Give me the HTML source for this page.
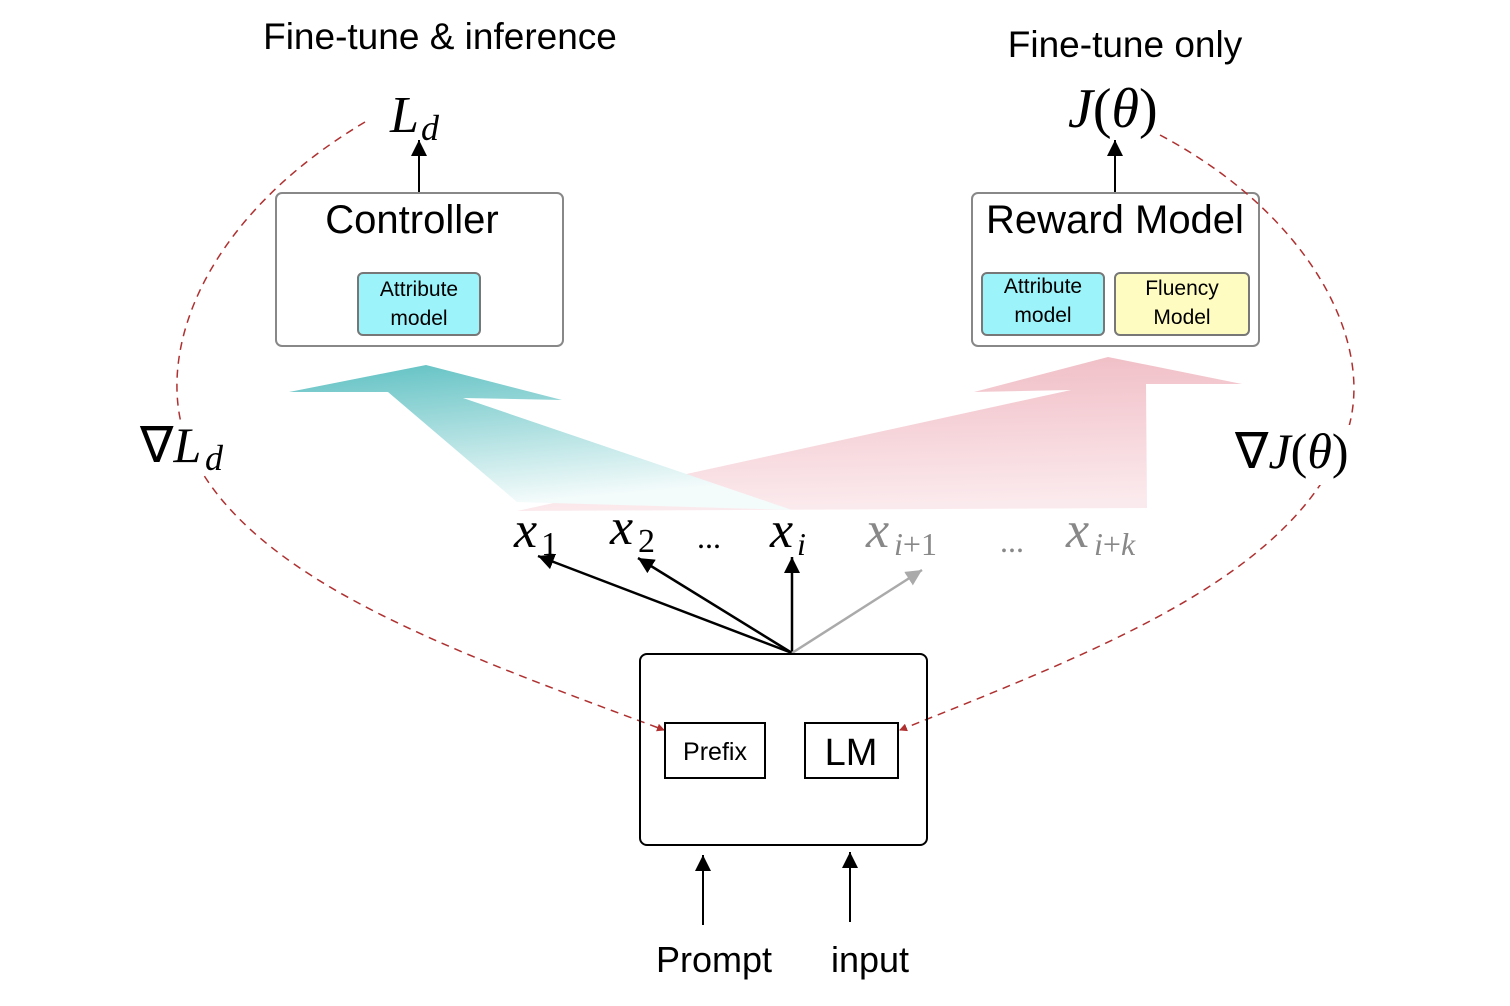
<!DOCTYPE html>
<html><head><style>
body{margin:0;background:#fff}
svg{display:block}
text{font-family:"Liberation Sans",sans-serif}
.m{font-family:"Liberation Serif",serif;font-style:italic}
.r{font-family:"Liberation Serif",serif;font-style:normal}
</style></head><body>
<svg width="1510" height="1006" viewBox="0 0 1510 1006" xmlns="http://www.w3.org/2000/svg">
<defs>
<linearGradient id="tg" x1="0" y1="0" x2="0.3" y2="1">
<stop offset="0" stop-color="#5ec0c2"/><stop offset="1" stop-color="#f4fbfb"/></linearGradient>
<linearGradient id="pg" x1="0" y1="0" x2="0.1" y2="1">
<stop offset="0" stop-color="#f0bcc4"/><stop offset="1" stop-color="#fbeaed"/></linearGradient>
<marker id="ag" markerWidth="18" markerHeight="16" refX="16" refY="8" orient="auto" markerUnits="userSpaceOnUse"><path d="M0,0 L16,8 L0,16 z" fill="#aaa"/></marker>
<marker id="ar" markerWidth="8" markerHeight="8" refX="7" refY="4" orient="auto" markerUnits="userSpaceOnUse"><path d="M0,0 L8,4 L0,8 z" fill="#b03030"/></marker>
<marker id="abig" markerWidth="18" markerHeight="16" refX="16" refY="8" orient="auto" markerUnits="userSpaceOnUse"><path d="M0,0 L16,8 L0,16 z" fill="#000"/></marker>
</defs>

<text x="440" y="49" font-size="37" text-anchor="middle">Fine-tune &amp; inference</text>
<text x="1125" y="57" font-size="37" text-anchor="middle">Fine-tune only</text>
<text x="390" y="132" font-size="52" class="m">L</text><text x="421" y="140" font-size="36" class="m">d</text>
<text x="1068" y="127" font-size="56" class="m">J<tspan class="r">(</tspan>θ<tspan class="r">)</tspan></text>

<polygon points="517,511 1071,390 974,392 1108,357 1242,384 1146,384 1147,508" fill="url(#pg)"/>
<polygon points="426,365 562,400 463,398 792,510 517,502 388,392 289,392" fill="url(#tg)"/>

<rect x="276" y="193" width="287" height="153" rx="6" fill="#fff" stroke="#888" stroke-width="2"/>
<text x="412" y="233" font-size="40" text-anchor="middle">Controller</text>
<rect x="358" y="273" width="122" height="62" rx="5" fill="#9cf4fa" stroke="#777" stroke-width="2"/>
<text x="419" y="296" font-size="21" text-anchor="middle">Attribute</text>
<text x="419" y="325" font-size="21" text-anchor="middle">model</text>
<line x1="419" y1="192" x2="419" y2="140" stroke="#000" stroke-width="2" marker-end="url(#abig)"/>

<rect x="972" y="193" width="287" height="153" rx="6" fill="#fff" stroke="#888" stroke-width="2"/>
<text x="1115" y="233" font-size="40" text-anchor="middle">Reward Model</text>
<rect x="982" y="273" width="122" height="62" rx="5" fill="#9cf4fa" stroke="#777" stroke-width="2"/>
<text x="1043" y="293" font-size="21" text-anchor="middle">Attribute</text>
<text x="1043" y="322" font-size="21" text-anchor="middle">model</text>
<rect x="1115" y="273" width="134" height="62" rx="5" fill="#fefcc0" stroke="#777" stroke-width="2"/>
<text x="1182" y="295" font-size="21" text-anchor="middle">Fluency</text>
<text x="1182" y="324" font-size="21" text-anchor="middle">Model</text>
<line x1="1115" y1="192" x2="1115" y2="140" stroke="#000" stroke-width="2" marker-end="url(#abig)"/>

<path d="M365,122 C200,220 150,360 190,450 C250,580 450,650 664,730" fill="none" stroke="#b03030" stroke-width="1.5" stroke-dasharray="8,6" marker-end="url(#ar)"/>
<path d="M1160,135 C1320,220 1385,360 1340,450 C1280,580 1100,650 900,730" fill="none" stroke="#b03030" stroke-width="1.5" stroke-dasharray="8,6" marker-end="url(#ar)"/>
<rect x="140" y="420" width="100" height="55" fill="#fff"/>
<rect x="1232" y="425" width="140" height="60" fill="#fff"/>
<text x="140" y="462" font-size="50" class="r">∇<tspan class="m">L</tspan></text>
<text x="205" y="470" font-size="36" class="m">d</text>
<text x="1235" y="468" font-size="50" class="r">∇<tspan class="m">J</tspan>(<tspan class="m">θ</tspan>)</text>

<text x="514" y="547" font-size="52" class="m">x</text><text x="541" y="555" font-size="34" class="r">1</text>
<text x="610" y="544" font-size="52" class="m">x</text><text x="638" y="552" font-size="34" class="r">2</text>
<text x="697" y="548" font-size="32" class="r">...</text>
<text x="770" y="547" font-size="52" class="m">x</text><text x="797" y="555" font-size="32" class="m">i</text>
<g fill="#888">
<text x="866" y="547" font-size="52" class="m">x</text><text x="894" y="555" font-size="32" class="m">i<tspan class="r">+1</tspan></text>
<text x="1000" y="552" font-size="32" class="r">...</text>
<text x="1066" y="547" font-size="52" class="m">x</text><text x="1094" y="555" font-size="32" class="m">i<tspan class="r">+</tspan>k</text>
</g>

<line x1="792" y1="653" x2="538" y2="556" stroke="#000" stroke-width="2.5" marker-end="url(#abig)"/>
<line x1="792" y1="653" x2="638" y2="558" stroke="#000" stroke-width="2.5" marker-end="url(#abig)"/>
<line x1="792" y1="653" x2="792" y2="557" stroke="#000" stroke-width="2.5" marker-end="url(#abig)"/>
<line x1="792" y1="653" x2="922" y2="570" stroke="#aaa" stroke-width="2.5" marker-end="url(#ag)"/>

<rect x="640" y="654" width="287" height="191" rx="7" fill="none" stroke="#000" stroke-width="2"/>
<rect x="665" y="723" width="100" height="55" fill="#fff" stroke="#000" stroke-width="2"/>
<text x="715" y="760" font-size="25" text-anchor="middle">Prefix</text>
<rect x="805" y="723" width="93" height="55" fill="#fff" stroke="#000" stroke-width="2"/>
<text x="851" y="765" font-size="38" text-anchor="middle">LM</text>

<line x1="703" y1="925" x2="703" y2="855" stroke="#000" stroke-width="2" marker-end="url(#abig)"/>
<line x1="850" y1="922" x2="850" y2="852" stroke="#000" stroke-width="2" marker-end="url(#abig)"/>
<text x="714" y="972" font-size="36" text-anchor="middle">Prompt</text>
<text x="870" y="972" font-size="36" text-anchor="middle">input</text>
</svg>
</body></html>
